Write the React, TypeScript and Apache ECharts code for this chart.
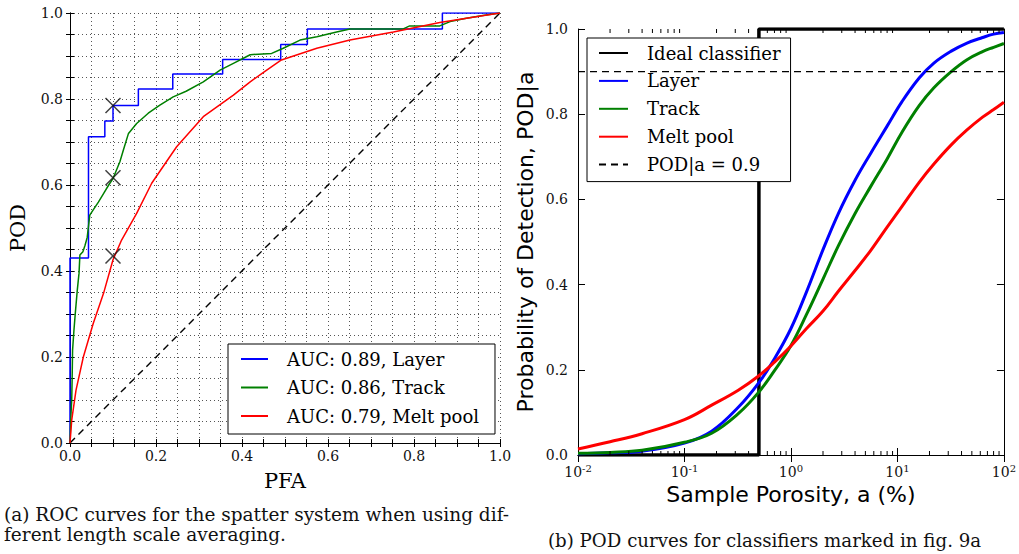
import { useEffect, useRef } from "react";
import * as echarts from "echarts";

const SERIF = "DejaVu Serif";
const SANS = "DejaVu Sans";

// ---------- Panel (a): ROC curves ----------
const rocNames = ["AUC: 0.89, Layer", "AUC: 0.86, Track", "AUC: 0.79, Melt pool"];
const rocLayer = [
  [0, 0], [0, 0.43], [0.043, 0.43], [0.043, 0.712], [0.081, 0.712], [0.081, 0.749],
  [0.1, 0.749], [0.1, 0.785], [0.159, 0.785], [0.159, 0.823], [0.239, 0.823],
  [0.239, 0.858], [0.355, 0.858], [0.355, 0.892], [0.49, 0.892], [0.49, 0.927],
  [0.552, 0.927], [0.552, 0.963], [0.866, 0.963], [0.866, 1], [1, 1],
];
const rocTrack = [
  [0, 0], [0.002, 0.06], [0.004, 0.1], [0.005, 0.15], [0.006, 0.216], [0.009, 0.26],
  [0.012, 0.298], [0.017, 0.356], [0.021, 0.395], [0.023, 0.437], [0.03, 0.445],
  [0.035, 0.46], [0.04, 0.478], [0.046, 0.53], [0.054, 0.542], [0.066, 0.56],
  [0.078, 0.58], [0.09, 0.6], [0.1, 0.615], [0.116, 0.654], [0.124, 0.681],
  [0.136, 0.72], [0.155, 0.743], [0.182, 0.767], [0.209, 0.786], [0.24, 0.805],
  [0.27, 0.818], [0.31, 0.84], [0.349, 0.867], [0.38, 0.883], [0.419, 0.903],
  [0.469, 0.906], [0.496, 0.918], [0.535, 0.937], [0.574, 0.945], [0.62, 0.956],
  [0.651, 0.963], [0.775, 0.963], [0.79, 0.97], [0.86, 0.97], [0.884, 0.98],
  [0.922, 0.988], [0.96, 0.994], [1, 1],
];
const rocMelt = [
  [0, 0], [0.004, 0.053], [0.014, 0.123], [0.031, 0.2], [0.054, 0.278], [0.078, 0.348],
  [0.1, 0.426], [0.12, 0.472], [0.155, 0.534], [0.19, 0.604], [0.248, 0.689],
  [0.31, 0.759], [0.38, 0.809], [0.419, 0.84], [0.45, 0.862], [0.49, 0.89],
  [0.574, 0.918], [0.651, 0.937], [0.752, 0.956], [0.86, 0.978], [0.922, 0.988], [1, 1],
];
const rocMarkers = [[0.1, 0.785], [0.1, 0.617], [0.1, 0.435]];
const chanceLine = [[0, 0], [1, 1]];

// ---------- Panel (b): POD curves ----------
const podNames = ["Ideal classifier", "Layer", "Track", "Melt pool", "POD|a = 0.9"];
const porosity = [
  0.01, 0.02, 0.04, 0.1, 0.18, 0.32, 0.5, 0.7, 1, 1.4, 2, 2.8, 4, 5.6, 8, 11, 16, 22,
  32, 45, 63, 80, 100,
];
const podLayer = [
  0.003, 0.005, 0.009, 0.028, 0.056, 0.112, 0.17, 0.226, 0.297, 0.383, 0.482, 0.568,
  0.645, 0.708, 0.772, 0.829, 0.885, 0.92, 0.948, 0.967, 0.98, 0.988, 0.992,
];
const podTrack = [
  0.004, 0.006, 0.011, 0.03, 0.051, 0.097, 0.148, 0.198, 0.257, 0.33, 0.413, 0.492,
  0.567, 0.63, 0.695, 0.757, 0.82, 0.862, 0.9, 0.928, 0.947, 0.957, 0.966,
];
const podMelt = [
  0.014, 0.031, 0.05, 0.083, 0.117, 0.152, 0.186, 0.218, 0.256, 0.297, 0.338, 0.385,
  0.433, 0.48, 0.535, 0.583, 0.64, 0.683, 0.728, 0.763, 0.793, 0.811, 0.828,
];
const idealX = [0.01, 0.5, 0.5, 100];
const idealY = [0, 0, 1, 1];
const podThreshold = 0.9;
const podRange = [0.01, 100];
const minorTickValues = [
  0.02, 0.03, 0.04, 0.05, 0.06, 0.07, 0.08, 0.09,
  0.2, 0.3, 0.4, 0.5, 0.6, 0.7, 0.8, 0.9,
  2, 3, 4, 5, 6, 7, 8, 9,
  20, 30, 40, 50, 60, 70, 80, 90,
];

const captionA1 = "(a) ROC curves for the spatter system when using dif-";
const captionA2 = "ferent length scale averaging.";
const captionB = "(b) POD curves for classifiers marked in fig. 9a";

const zip = (xs: number[], ys: number[]) => xs.map((x, i) => [x, ys[i]]);

const rocLabel = (v: number) => {
  const t = Math.round(v * 100) / 100;
  const k = Math.round(t * 10);
  if (Math.abs(t * 10 - k) < 1e-6 && k % 2 === 0) return t.toFixed(1);
  return "";
};

const black = "#000";
const tickLabel = { fontFamily: SERIF, fontSize: 14, color: "#111" };

export default function App() {
  const ref = useRef<HTMLDivElement>(null);
  useEffect(() => {
    document.body.style.margin = "0";
    if (!ref.current) return;
    const chart = echarts.init(ref.current, undefined, { renderer: "svg" });

    const baseLine = { show: true, lineStyle: { color: black, width: 1 } };
    const gridA = 0;
    const gridB = 1;

    const option: any = {
      animation: false,
      backgroundColor: "#fff",
      grid: [
        { left: 70, top: 13, width: 430, height: 430, show: false },
        { left: 578, top: 29, width: 427, height: 426, show: false },
      ],
      xAxis: [
        {
          gridIndex: gridA, type: "value", min: 0, max: 1, interval: 0.05, position: "bottom",
          axisLine: baseLine,
          axisTick: { show: true, inside: true, length: 4, lineStyle: { color: black } },
          axisLabel: { ...tickLabel, margin: 6, formatter: rocLabel, showMinLabel: true, showMaxLabel: true },
          splitLine: { show: true, lineStyle: { color: "#555", width: 1, type: [1, 3] } },
          name: "PFA", nameLocation: "middle", nameGap: 27,
          nameTextStyle: { fontFamily: SERIF, fontSize: 21, color: black },
        },
        {
          gridIndex: gridA, type: "value", min: 0, max: 1, interval: 0.05, position: "top",
          axisLine: baseLine,
          axisTick: { show: true, inside: true, length: 4, lineStyle: { color: black } },
          axisLabel: { show: false }, splitLine: { show: false },
        },
        {
          gridIndex: gridB, type: "log", logBase: 10, min: podRange[0], max: podRange[1], position: "bottom",
          axisLine: baseLine,
          axisTick: { show: true, inside: true, length: 7, lineStyle: { color: black } },
          axisLabel: {
            margin: 8,
            formatter: (v: number) => `{b|10}{s|${Math.round(Math.log10(v))}}`,
            rich: {
              b: { fontFamily: SERIF, fontSize: 14, color: "#111", lineHeight: 18 },
              s: { fontFamily: SERIF, fontSize: 10, color: "#111", verticalAlign: "top", lineHeight: 10 },
            },
          },
          splitLine: { show: false },
          name: "Sample Porosity, a (%)", nameLocation: "middle", nameGap: 28,
          nameTextStyle: { fontFamily: SANS, fontSize: 22, color: black },
        },
        {
          gridIndex: gridB, type: "log", logBase: 10, min: podRange[0], max: podRange[1], position: "top",
          axisLine: baseLine,
          axisTick: { show: true, inside: true, length: 7, lineStyle: { color: black } },
          axisLabel: { show: false }, splitLine: { show: false },
        },
      ],
      yAxis: [
        {
          gridIndex: gridA, type: "value", min: 0, max: 1, interval: 0.05, position: "left",
          axisLine: baseLine,
          axisTick: { show: true, inside: true, length: 4, lineStyle: { color: black } },
          axisLabel: { ...tickLabel, margin: 7, formatter: rocLabel, showMinLabel: true, showMaxLabel: true },
          splitLine: { show: true, lineStyle: { color: "#555", width: 1, type: [1, 3] } },
          name: "POD", nameLocation: "middle", nameGap: 42,
          nameTextStyle: { fontFamily: SERIF, fontSize: 21, color: black },
        },
        {
          gridIndex: gridA, type: "value", min: 0, max: 1, interval: 0.05, position: "right",
          axisLine: baseLine,
          axisTick: { show: true, inside: true, length: 4, lineStyle: { color: black } },
          axisLabel: { show: false }, splitLine: { show: false },
        },
        {
          gridIndex: gridB, type: "value", min: 0, max: 1, interval: 0.2, position: "left",
          axisLine: baseLine,
          axisTick: { show: true, inside: true, length: 7, lineStyle: { color: black } },
          axisLabel: { ...tickLabel, margin: 10, formatter: (v: number) => v.toFixed(1) },
          splitLine: { show: false },
          name: "Probability of Detection, POD|a", nameLocation: "middle", nameGap: 42,
          nameTextStyle: { fontFamily: SANS, fontSize: 22, color: black },
        },
        {
          gridIndex: gridB, type: "value", min: 0, max: 1, interval: 0.2, position: "right",
          axisLine: baseLine,
          axisTick: { show: true, inside: true, length: 7, lineStyle: { color: black } },
          axisLabel: { show: false }, splitLine: { show: false },
        },
      ],
      legend: [
        {
          data: rocNames, orient: "vertical", left: 228, top: 344, selectedMode: false,
          backgroundColor: "#fff", borderColor: black, borderWidth: 1, borderRadius: 0,
          padding: [5, 16, 8, 12], itemGap: 8.5, itemWidth: 27, itemHeight: 14,
          itemStyle: { opacity: 0 },
          textStyle: { fontFamily: SERIF, fontSize: 18, color: black, lineHeight: 20, padding: [0, 0, 0, 14] },
        },
        {
          data: podNames, orient: "vertical", left: 587, top: 38, selectedMode: false,
          backgroundColor: "#fff", borderColor: black, borderWidth: 1, borderRadius: 0,
          padding: [5, 10, 7, 11], itemGap: 7.9, itemWidth: 29, itemHeight: 14,
          itemStyle: { opacity: 0 },
          textStyle: { fontFamily: SERIF, fontSize: 18, color: black, lineHeight: 20, padding: [0, 0, 0, 14] },
        },
      ],
      series: [
        {
          name: "chance", type: "line", xAxisIndex: 0, yAxisIndex: 0, data: chanceLine,
          symbol: "none", lineStyle: { color: black, width: 1.4, type: [7, 5] }, silent: true, z: 3,
        },
        {
          name: rocNames[0], type: "line", xAxisIndex: 0, yAxisIndex: 0, data: rocLayer,
          symbol: "none", showSymbol: false, color: "#0000ff", lineStyle: { color: "#0000ff", width: 1.5 }, z: 4,
        },
        {
          name: rocNames[1], type: "line", xAxisIndex: 0, yAxisIndex: 0, data: rocTrack,
          symbol: "none", showSymbol: false, color: "#008000", lineStyle: { color: "#008000", width: 1.5 }, z: 4,
        },
        {
          name: rocNames[2], type: "line", xAxisIndex: 0, yAxisIndex: 0, data: rocMelt,
          symbol: "none", showSymbol: false, color: "#ff0000", lineStyle: { color: "#ff0000", width: 1.5 }, z: 4,
        },
        {
          name: "markers", type: "scatter", xAxisIndex: 0, yAxisIndex: 0, data: rocMarkers,
          symbol: "path://M0,0L10,10M10,0L0,10", symbolSize: 15,
          itemStyle: { color: "none", borderColor: "#111", borderWidth: 1.5 }, z: 5, silent: true,
        },
        {
          name: podNames[0], type: "line", xAxisIndex: 2, yAxisIndex: 2, data: zip(idealX, idealY),
          symbol: "none", showSymbol: false, color: black, lineStyle: { color: black, width: 3.5 }, z: 3,
        },
        {
          name: podNames[1], type: "line", xAxisIndex: 2, yAxisIndex: 2, data: zip(porosity, podLayer),
          symbol: "none", showSymbol: false, smooth: 0.4,
          color: "#0000ff", lineStyle: { color: "#0000ff", width: 3 }, z: 4,
        },
        {
          name: podNames[2], type: "line", xAxisIndex: 2, yAxisIndex: 2, data: zip(porosity, podTrack),
          symbol: "none", showSymbol: false, smooth: 0.4,
          color: "#008000", lineStyle: { color: "#008000", width: 3 }, z: 4,
        },
        {
          name: podNames[3], type: "line", xAxisIndex: 2, yAxisIndex: 2, data: zip(porosity, podMelt),
          symbol: "none", showSymbol: false, smooth: 0.4,
          color: "#ff0000", lineStyle: { color: "#ff0000", width: 3 }, z: 4,
        },
        {
          name: podNames[4], type: "line", xAxisIndex: 2, yAxisIndex: 2,
          data: [[podRange[0], podThreshold], [podRange[1], podThreshold]],
          symbol: "none", showSymbol: false, color: black, lineStyle: { color: black, width: 1.2, type: [7, 5] }, z: 4,
        },
        {
          name: "minorTicks", type: "custom", xAxisIndex: 2, yAxisIndex: 2, silent: true,
          data: minorTickValues.map((v) => [v, 0]), encode: { x: 0, y: 1 }, z: 6,
          renderItem: (_p: any, api: any) => {
            const v = api.value(0);
            const b = api.coord([v, 0]);
            const t = api.coord([v, 1]);
            return {
              type: "group",
              children: [
                { type: "line", shape: { x1: b[0], y1: b[1], x2: b[0], y2: b[1] - 4 }, style: { stroke: black, lineWidth: 1 } },
                { type: "line", shape: { x1: t[0], y1: t[1], x2: t[0], y2: t[1] + 4 }, style: { stroke: black, lineWidth: 1 } },
              ],
            };
          },
        },
      ],
      graphic: [
        { type: "text", x: 4, y: 514, style: { text: captionA1, fontFamily: SERIF, fontSize: 18.5, fill: "#111", verticalAlign: "middle" } },
        { type: "text", x: 4, y: 534, style: { text: captionA2, fontFamily: SERIF, fontSize: 18.5, fill: "#111", verticalAlign: "middle" } },
        { type: "text", x: 548, y: 540, style: { text: captionB, fontFamily: SERIF, fontSize: 18.2, fill: "#111", verticalAlign: "middle" } },
      ],
    };
    chart.setOption(option);
    return () => chart.dispose();
  }, []);
  return <div ref={ref} style={{ width: 1019, height: 554 }} />;
}
